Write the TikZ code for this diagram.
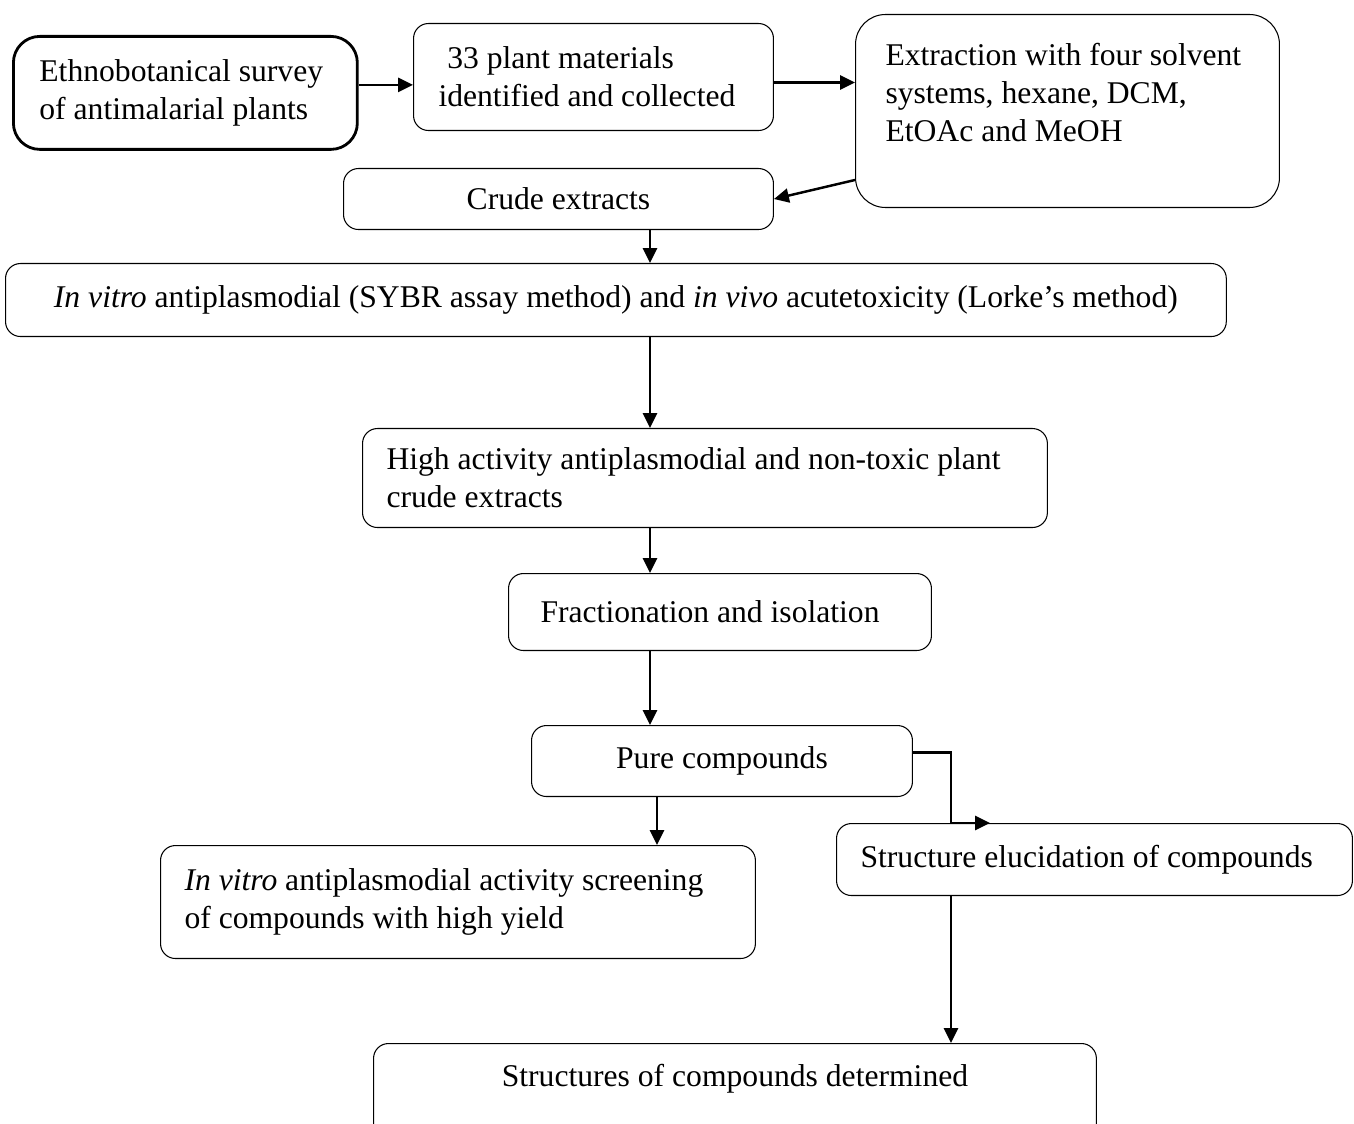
\documentclass[tikz,border=0pt]{standalone}
\usepackage{fontspec}
\setmainfont{Liberation Serif}
\usetikzlibrary{positioning,arrows.meta,calc}

\begin{document}
\begin{tikzpicture}[
    x=0.02cm, y=-0.02cm,
    box/.style={draw, rounded corners=8.5pt, line width=0.6pt, anchor=north west, inner ysep=0pt, font=\fontsize{18}{21.6}\selectfont},
    leftbox/.style={box, align=flush left},
    midbox/.style={box, align=center},
    arrow/.style={-{Triangle[length=8.5pt,width=8pt]}, line width=1.4pt},
]

\useasboundingbox (0,0) rectangle (1354,1124);

% Survey and extraction
\node[leftbox, line width=1.6pt, rounded corners=15pt, minimum width=6.88cm, minimum height=2.26cm, inner xsep=0.52cm, text width=5.84cm] (survey) at (12,35) {Ethnobotanical survey\\of antimalarial plants};
\node[leftbox, minimum width=7.2cm, minimum height=2.14cm, inner xsep=0.5cm, text width=6.2cm] (plants) at (413,23) {\hspace{5pt}33 plant materials\\identified and collected};
\node[leftbox, rounded corners=17pt, minimum width=8.48cm, minimum height=3.86cm, inner xsep=0.6cm, text width=7.28cm] (extract) at (855,14) {Extraction with four solvent\\systems, hexane, DCM,\\EtOAc and MeOH\\ \mbox{}};
\node[midbox, minimum width=8.6cm, minimum height=1.22cm] (crude) at (343,168) {Crude extracts};

% Screening of extracts
\node[midbox, minimum width=24.42cm, minimum height=1.46cm] (assay) at (5,263) {\textit{In vitro} antiplasmodial (SYBR assay method) and \textit{in vivo} acutetoxicity (Lorke’s method)};
\node[leftbox, minimum width=13.7cm, minimum height=1.98cm, inner xsep=0.48cm, text width=12.74cm] (active) at (362,428) {High activity antiplasmodial and non-toxic plant\\crude extracts};
\node[leftbox, minimum width=8.46cm, minimum height=1.54cm, inner xsep=0.64cm, text width=7.18cm] (fraction) at (508,573) {Fractionation and isolation};
\node[midbox, minimum width=7.62cm, minimum height=1.42cm] (pure) at (531,725) {Pure compounds};

% Compounds
\node[leftbox, minimum width=11.9cm, minimum height=2.26cm, inner xsep=0.48cm, text width=10.94cm] (screen) at (160,845) {\textit{In vitro} antiplasmodial activity screening\\of compounds with high yield};
\node[leftbox, minimum width=10.32cm, minimum height=1.44cm, inner xsep=0.48cm, text width=9.36cm] (elucid) at (836,823) {Structure elucidation of compounds};
\node[midbox, minimum width=14.46cm, minimum height=2.04cm] (struct) at (373,1043) {Structures of compounds determined\\ \mbox{}};

\coordinate (col) at (650,0);
\coordinate (col2) at (657,0);

% Arrows
\draw[arrow] ([yshift=0.16cm]survey.east) -- ([yshift=0.16cm]survey.east -| plants.west);
\draw[arrow] ([yshift=-0.11cm]plants.east) -- ([yshift=-0.11cm]plants.east -| extract.west);
\draw[arrow] ([yshift=-1.38cm]extract.west) -- (crude.east);
\draw[arrow] (crude.south -| col) -- (assay.north -| col);
\draw[arrow] (assay.south -| col) -- (active.north -| col);
\draw[arrow] (active.south -| col) -- (fraction.north -| col);
\draw[arrow] (fraction.south -| col) -- (pure.north -| col);
\draw[arrow] (pure.south -| col2) -- (screen.north -| col2);
\draw[arrow] ([yshift=0.17cm]pure.east) -| ([xshift=2.3cm]elucid.north west) -- ([xshift=3.08cm]elucid.north west);
\draw[arrow] ([xshift=2.3cm]elucid.south west) -- ([xshift=2.3cm]elucid.south west |- struct.north);

\end{tikzpicture}
\end{document}
